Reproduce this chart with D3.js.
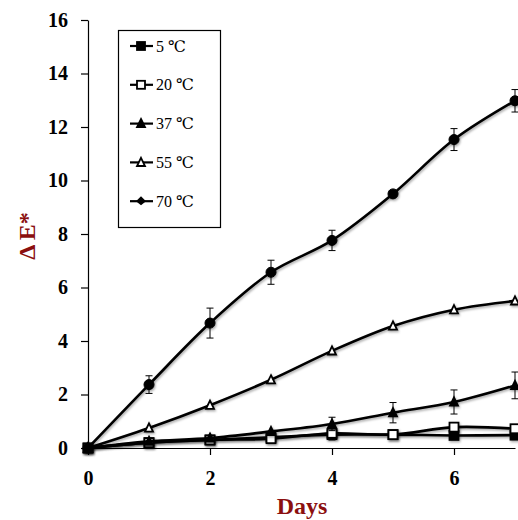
<!DOCTYPE html>
<html><head><meta charset="utf-8">
<script src="https://cdn.jsdelivr.net/npm/d3@7"></script>
<style>body{margin:0;background:#fff}svg{display:block}</style>
</head><body>
<svg id="c" width="518" height="520"></svg>
<script>
const days = [0,1,2,3,4,5,6,7];
const seriesNames = ["5 ℃","20 ℃","37 ℃","55 ℃","70 ℃"];
const markers = ["square-filled","square-open","triangle-filled","triangle-open","circle-filled"];
const v5  = [0,0.2,0.3,0.4,0.5,0.5,0.47,0.48];
const v20 = [0,0.2,0.3,0.35,0.55,0.5,0.78,0.72];
const v37 = [0,0.25,0.37,0.62,0.9,1.32,1.72,2.34];
const v55 = [0,0.75,1.6,2.55,3.63,4.56,5.17,5.5];
const v70 = [0,2.37,4.67,6.57,7.76,9.5,11.53,12.98];
const e5  = [0,0,0,0,0.2,0,0,0];
const e20 = [0,0,0,0,0,0,0,0];
const e37 = [0,0,0,0,0.25,0.38,0.45,0.5];
const e55 = [0,0,0,0,0,0,0,0];
const e70 = [0,0.33,0.56,0.45,0.38,0.1,0.41,0.42];
const yTicks = [0,2,4,6,8,10,12,14,16];
const xTicks = [0,2,4,6];

const values = [v5,v20,v37,v55,v70];
const errors = [e5,e20,e37,e55,e70];

const svg = d3.select("#c");
const x = d3.scaleLinear().domain([0,7]).range([88,515]);
const y = d3.scaleLinear().domain([0,16]).range([448,20]);

const defs = svg.append("defs");
const f = defs.append("filter").attr("id","sh").attr("x","-50%").attr("y","-50%").attr("width","200%").attr("height","200%");
f.append("feDropShadow").attr("dx",1).attr("dy",1.5).attr("stdDeviation",1.2).attr("flood-color","#000").attr("flood-opacity",0.35);

// axes
const yAxis = d3.axisLeft(y).tickValues(yTicks).tickFormat(d3.format("d")).tickSize(7).tickPadding(13).tickSizeOuter(0);
const gy = svg.append("g").attr("transform",`translate(${x(0)},0)`).call(yAxis);
const xAxis = d3.axisBottom(x).tickValues(xTicks).tickFormat(d3.format("d")).tickSize(7).tickPadding(12).tickSizeOuter(0);
const gx = svg.append("g").attr("transform",`translate(0,${y(0)})`).call(xAxis);
[gy,gx].forEach(g=>{
  g.select(".domain").attr("stroke","#000").attr("stroke-width",1.2);
  g.selectAll(".tick line").attr("stroke","#000").attr("stroke-width",1.2);
  g.selectAll(".tick text").attr("fill","#000").style("font-family","'Liberation Serif','Times New Roman',serif")
   .style("font-size","20px").style("font-weight","bold");
});
gx.selectAll(".tick text").attr("dy","0.9em");

svg.append("text").attr("x",302).attr("y",514).attr("text-anchor","middle")
  .style("font-family","'Liberation Serif','Times New Roman',serif").style("font-size","24px").style("font-weight","bold")
  .attr("fill","#8b0f0f").text("Days");
svg.append("text").attr("transform","translate(35,236) rotate(-90)").attr("text-anchor","middle")
  .style("font-family","'Liberation Serif','Times New Roman',serif").style("font-size","24px").style("font-weight","bold")
  .attr("fill","#8b0f0f").text("Δ E*");

function drawMarker(g, type, cx, cy, s) {
  const filled = type.endsWith("filled") ? "#000" : "#fff";
  if (type.startsWith("square")) {
    g.append("rect").attr("x",cx-s/2).attr("y",cy-s/2).attr("width",s).attr("height",s)
      .attr("fill",filled).attr("stroke","#000").attr("stroke-width",1.8);
  } else if (type.startsWith("triangle")) {
    const h = s*0.9;
    g.append("path").attr("d",`M${cx},${cy-h/2-1} L${cx+s/2},${cy+h/2} L${cx-s/2},${cy+h/2} Z`)
      .attr("fill",filled).attr("stroke","#000").attr("stroke-width",1.8).attr("stroke-linejoin","miter");
  } else {
    g.append("circle").attr("cx",cx).attr("cy",cy).attr("r",s/2).attr("fill",filled).attr("stroke","#000").attr("stroke-width",1);
  }
}

const line = d3.line().x((d,i)=>x(days[i])).y(d=>y(d)).curve(d3.curveCatmullRom.alpha(0.5));
const plot = svg.append("g");
values.forEach((vals,si)=>{
  const g = plot.append("g");
  vals.forEach((v,i)=>{
    const e = errors[si][i];
    if (e>0) {
      const cx = x(days[i]);
      g.append("line").attr("x1",cx).attr("x2",cx).attr("y1",y(v-e)).attr("y2",y(v+e)).attr("stroke","#000").attr("stroke-width",1);
      [v-e,v+e].forEach(t=>g.append("line").attr("x1",cx-3.5).attr("x2",cx+3.5).attr("y1",y(t)).attr("y2",y(t)).attr("stroke","#000").attr("stroke-width",1));
    }
  });
  g.append("path").attr("d",line(vals)).attr("fill","none").attr("stroke","#000").attr("stroke-width",2.6).attr("filter","url(#sh)");
  const mg = g.append("g").attr("filter","url(#sh)");
  vals.forEach((v,i)=>drawMarker(mg, markers[si], x(days[i]), y(v), markers[si].startsWith("circle")?10:(markers[si].startsWith("triangle")?8:9)));
});

// legend
const lg = svg.append("g");
lg.append("rect").attr("x",118.5).attr("y",30.5).attr("width",102).attr("height",197).attr("fill","#fff").attr("stroke","#000").attr("stroke-width",1.2);
seriesNames.forEach((n,i)=>{
  const cy = 46 + i*38.8;
  lg.append("line").attr("x1",130).attr("x2",153).attr("y1",cy).attr("y2",cy).attr("stroke","#000").attr("stroke-width",2.2);
  const mk = markers[i];
  if (mk.startsWith("circle")) {
    lg.append("path").attr("d",`M141,${cy-5} L146,${cy} L141,${cy+4} L136,${cy} Z`).attr("fill","#000");
  } else drawMarker(lg, mk, 141, cy, 8);
  lg.append("text").attr("x",156).attr("y",cy+5.5)
    .style("font-family","'Liberation Serif','DejaVu Serif','Times New Roman',serif").style("font-size","16px")
    .attr("fill","#000").text(n);
});
</script>
</body></html>
